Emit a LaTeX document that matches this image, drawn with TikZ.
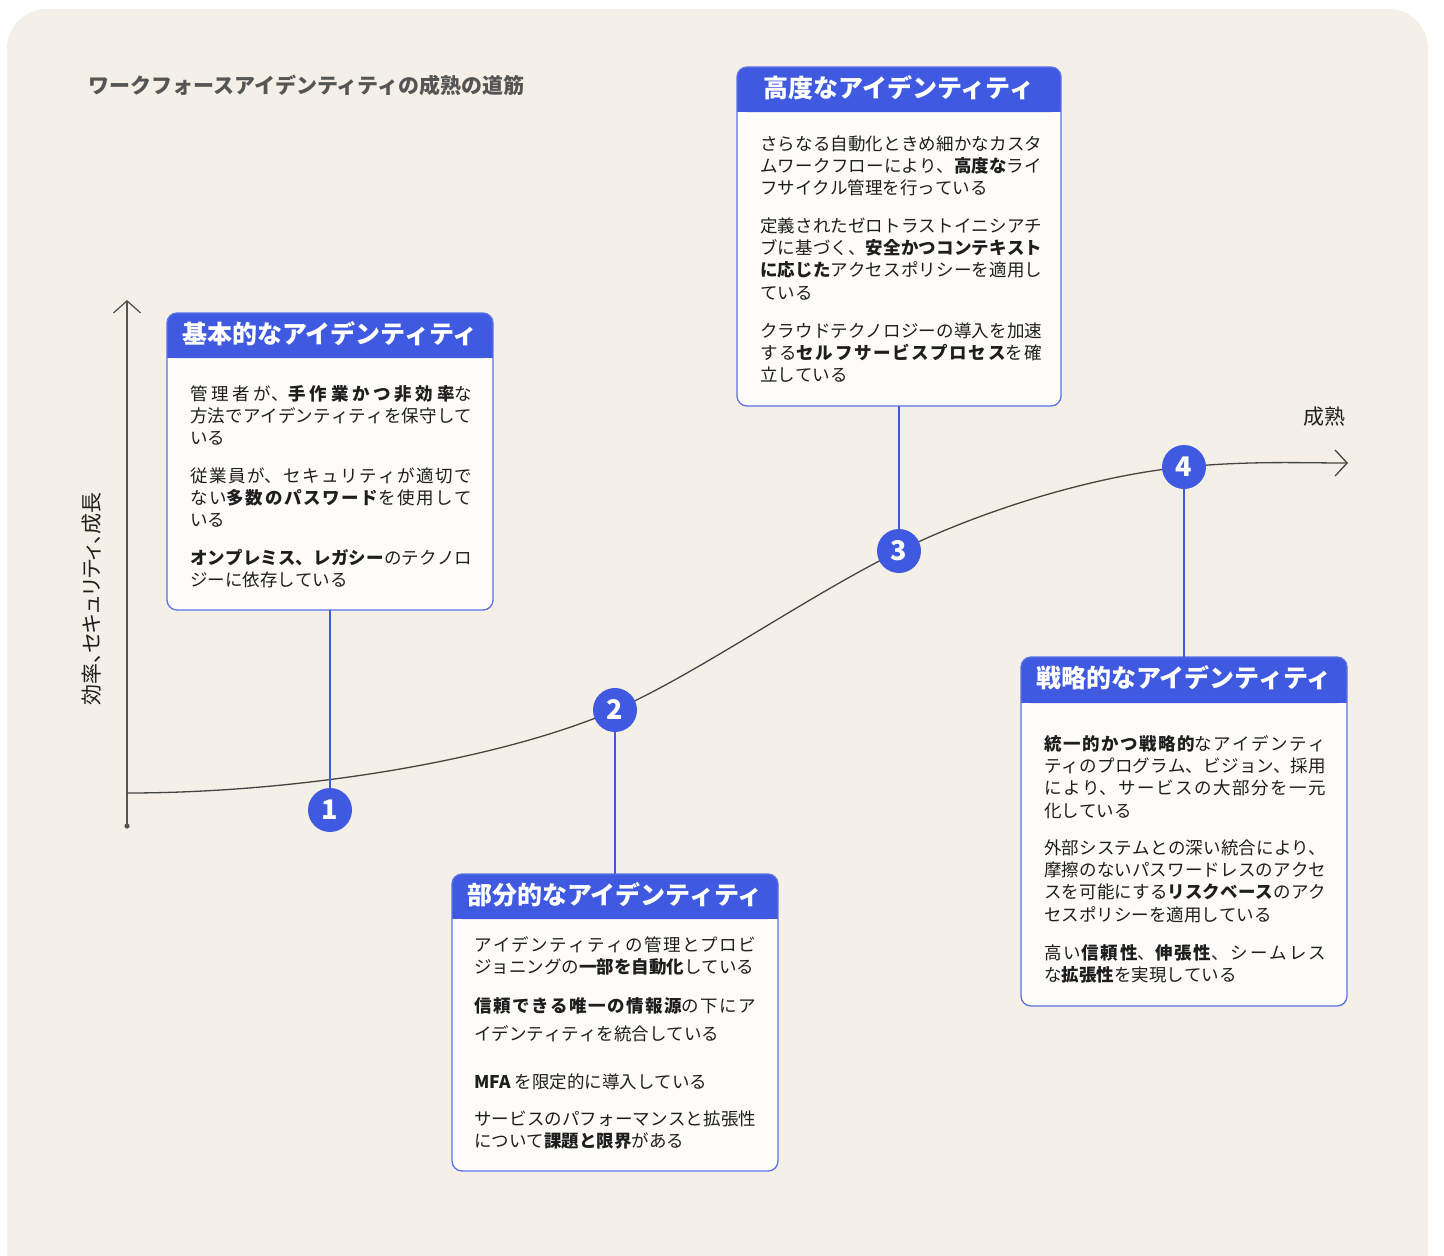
\documentclass[tikz,border=0pt]{standalone}
\usepackage{fontspec}
\setmainfont{Noto Sans CJK JP}
\newfontfamily\jppalt{Noto Sans CJK JP}[RawFeature=+palt]
\usetikzlibrary{arrows.meta}
\XeTeXlinebreaklocale "ja"
\XeTeXlinebreakskip=0pt plus 4pt
\definecolor{bgc}{HTML}{F4F0E7}
\definecolor{blu}{HTML}{3F5AE0}
\definecolor{bord}{HTML}{5A72E6}
\definecolor{boxf}{HTML}{FDFCF8}
\definecolor{txt}{HTML}{1E1E1E}
\definecolor{ttl}{HTML}{555555}
\definecolor{crv}{HTML}{444444}
\definecolor{axc}{HTML}{555555}
\tikzset{
  boxn/.style={fill=boxf, inner sep=0pt, outer sep=0pt, rounded corners=10pt, anchor=north west},
  boxline/.style={draw=bord, line width=1.3pt, rounded corners=10pt},
  hdrtxt/.style={font=\bfseries\fontsize{25}{28}\selectfont, text=white, inner sep=0pt},
  para/.style={anchor=base west, text width=282pt, align=justify, inner sep=0pt,
    font=\fontsize{17.5}{22.4}\selectfont, text=txt},
  num/.style={circle, fill=blu, minimum size=44pt, inner sep=0pt, text=white,
    font=\bfseries\fontsize{27}{30}\selectfont},
  conn/.style={draw=blu, line width=1.2pt},
  axisl/.style={draw=axc, line width=1.3pt},
  curvel/.style={draw=crv, line width=1.3pt}
}
\begin{document}
\begin{tikzpicture}[x=1pt,y=-1pt]
\useasboundingbox (0,0) rectangle (1444,1256);
\fill[white] (0,0) rectangle (1444,1256);
\fill[bgc, rounded corners=40pt] (7,9) rectangle (1428,1300);

% title
\node[anchor=base west, font=\bfseries\fontsize{21}{24}\selectfont, text=ttl, inner sep=0pt] (title) at (88,93) {ワークフォースアイデンティティの成熟の道筋};

% axes
\coordinate (ybot) at (127,826);
\coordinate (ytop) at (127,300);
\draw[axisl, -{Straight Barb[length=12pt,width=27pt]}] (ybot) -- (ytop);
\fill[axc] (ybot) circle (2.6);
\node[rotate=90, font=\jppalt\fontsize{21}{24}\selectfont, text=txt, inner sep=0pt] (ylab) at (92,599) {効率、セキュリティ、成長};
\node[font=\fontsize{21}{24}\selectfont, text=txt, inner sep=0pt] (mat) at (1324,417) {成熟};

% curve
\coordinate (cs) at (127,793);
\coordinate (ce) at (1348,463);
\draw[curvel, -{Straight Barb[length=12pt,width=26pt]}] (cs) .. controls (300,793) and (500,760) .. (615,710) .. controls (695,675.2) and (809,595) .. (899,551) .. controls (989,507) and (1100,475) .. (1184,467) .. controls (1250,460.7) and (1300,463) .. (ce);

% ---------- box 1
\node[boxn, minimum width=326pt, minimum height=297pt] (b1) at (167,313) {};
\fill[blu, rounded corners=10pt] (b1.north west) rectangle ([yshift=-45pt]b1.north east);
\fill[blu] ([yshift=-22pt]b1.north west) rectangle ([yshift=-45pt]b1.north east);
\draw[boxline] (b1.north west) rectangle (b1.south east);
\node[hdrtxt] (h1) at ([yshift=-20.5pt]b1.north) {基本的なアイデンティティ};
\node[para] (p11) at (190,400) {管理者が、\textbf{手作業かつ非効率}な\linebreak 方法でアイデンティティを保守して\linebreak いる};
\node[para] (p12) at (190,482) {従業員が、セキュリティが適切で\linebreak ない\textbf{多数のパスワード}を使用して\linebreak いる};
\node[para] (p13) at (190,564) {\textbf{オンプレミス、レガシー}のテクノロ\linebreak ジーに依存している};

% ---------- box 3
\node[boxn, minimum width=324pt, minimum height=339pt] (b3) at (737,67) {};
\fill[blu, rounded corners=10pt] (b3.north west) rectangle ([yshift=-45pt]b3.north east);
\fill[blu] ([yshift=-22pt]b3.north west) rectangle ([yshift=-45pt]b3.north east);
\draw[boxline] (b3.north west) rectangle (b3.south east);
\node[hdrtxt] (h3) at ([yshift=-20.5pt]b3.north) {高度なアイデンティティ};
\node[para] (p31) at (760,150) {さらなる自動化ときめ細かなカスタ\linebreak ムワークフローにより、\textbf{高度な}ライ\linebreak フサイクル管理を行っている};
\node[para] (p32) at (760,232) {定義されたゼロトラストイニシアチ\linebreak ブに基づく、\textbf{安全かつコンテキスト}\linebreak \textbf{に応じた}アクセスポリシーを適用し\linebreak ている};
\node[para] (p33) at (760,337) {クラウドテクノロジーの導入を加速\linebreak する\textbf{セルフサービスプロセス}を確\linebreak 立している};

% ---------- box 2
\node[boxn, minimum width=326pt, minimum height=297pt] (b2) at (452,874) {};
\fill[blu, rounded corners=10pt] (b2.north west) rectangle ([yshift=-45pt]b2.north east);
\fill[blu] ([yshift=-22pt]b2.north west) rectangle ([yshift=-45pt]b2.north east);
\draw[boxline] (b2.north west) rectangle (b2.south east);
\node[hdrtxt] (h2) at ([yshift=-20.5pt]b2.north) {部分的なアイデンティティ};
\node[para] (p21) at (474,951) {アイデンティティの管理とプロビ\linebreak ジョニングの\textbf{一部を自動化}している};
\node[para, font=\fontsize{17.5}{28}\selectfont] (p22) at (474,1012) {\textbf{信頼できる唯一の情報源}の下にア\linebreak イデンティティを統合している};
\node[para] (p23) at (474,1088) {\textbf{MFA} を限定的に導入している};
\node[para] (p24) at (474,1125) {サービスのパフォーマンスと拡張性\linebreak について\textbf{課題と限界}がある};

% ---------- box 4
\node[boxn, minimum width=326pt, minimum height=349pt] (b4) at (1021,657) {};
\fill[blu, rounded corners=10pt] (b4.north west) rectangle ([yshift=-46pt]b4.north east);
\fill[blu] ([yshift=-22pt]b4.north west) rectangle ([yshift=-46pt]b4.north east);
\draw[boxline] (b4.north west) rectangle (b4.south east);
\node[hdrtxt] (h4) at ([yshift=-20.5pt]b4.north) {戦略的なアイデンティティ};
\node[para] (p41) at (1044,750) {\textbf{統一的かつ戦略的}なアイデンティ\linebreak ティのプログラム、ビジョン、採用\linebreak により、サービスの大部分を一元\linebreak 化している};
\node[para] (p42) at (1044,854) {外部システムとの深い統合により、\linebreak 摩擦のないパスワードレスのアクセ\linebreak スを可能にする\textbf{リスクベース}のアク\linebreak セスポリシーを適用している};
\node[para] (p43) at (1044,959) {高い\textbf{信頼性}、\textbf{伸張性}、シームレス\linebreak な\textbf{拡張性}を実現している};

% ---------- circles
\node[num] (c1) at (330,810) {1};
\node[num] (c2) at (615,710) {2};
\node[num] (c3) at (899,551) {3};
\node[num] (c4) at (1184,467) {4};

% connectors
\draw[conn] (b1.south) -- (c1.north);
\draw[conn] (b3.south) -- (c3.north);
\draw[conn] (c2.south) -- (b2.north);
\draw[conn] (c4.south) -- (b4.north);
\end{tikzpicture}
\end{document}
